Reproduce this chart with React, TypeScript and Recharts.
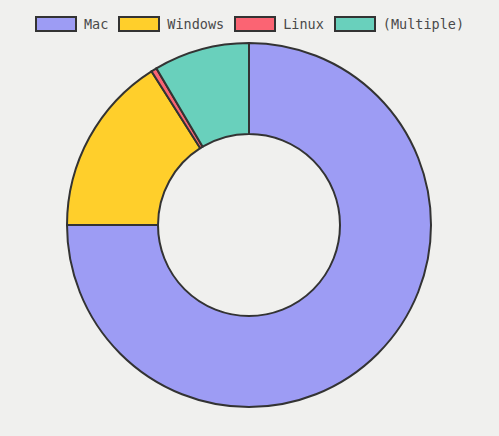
import React from "react";
import { PieChart, Pie, Cell } from "recharts";

const categories = ["Mac", "Windows", "Linux", "(Multiple)"];
const values = [75, 16, 0.5, 8.5];
const colors = ["#9d9cf4", "#ffcf2b", "#fb6473", "#69d0bc"];

const data = categories.map((name, i) => ({ name, value: values[i] }));

const FONT = "'DejaVu Sans Mono', monospace";

const LegendBar = () => (
  <div
    style={{
      position: "absolute",
      top: 16,
      left: 0,
      width: 499,
      display: "flex",
      justifyContent: "center",
      alignItems: "center",
      fontFamily: FONT,
      fontSize: 13.5,
      color: "#4a4a4a",
    }}
  >
    {categories.map((c, i) => (
      <div
        key={c}
        style={{ display: "flex", alignItems: "center", marginRight: i < categories.length - 1 ? 10 : 0 }}
      >
        <div
          style={{
            width: 38,
            height: 12,
            background: colors[i],
            border: "2px solid #333",
            marginRight: 7,
          }}
        />
        <span>{c}</span>
      </div>
    ))}
  </div>
);

export default function App() {
  return (
    <div
      style={{
        position: "fixed",
        left: 0,
        top: 0,
        width: 499,
        height: 436,
        background: "#f0f0ee",
      }}
    >
      <PieChart width={499} height={436} margin={{ top: 0, right: 0, bottom: 0, left: 0 }}>
        <Pie
          data={data}
          dataKey="value"
          nameKey="name"
          cx={249}
          cy={225}
          innerRadius={91}
          outerRadius={182}
          startAngle={90}
          endAngle={-270}
          stroke="#333"
          strokeWidth={2}
          isAnimationActive={false}
        >
          {data.map((d, i) => (
            <Cell key={d.name} fill={colors[i]} />
          ))}
        </Pie>
      </PieChart>
      <LegendBar />
    </div>
  );
}
